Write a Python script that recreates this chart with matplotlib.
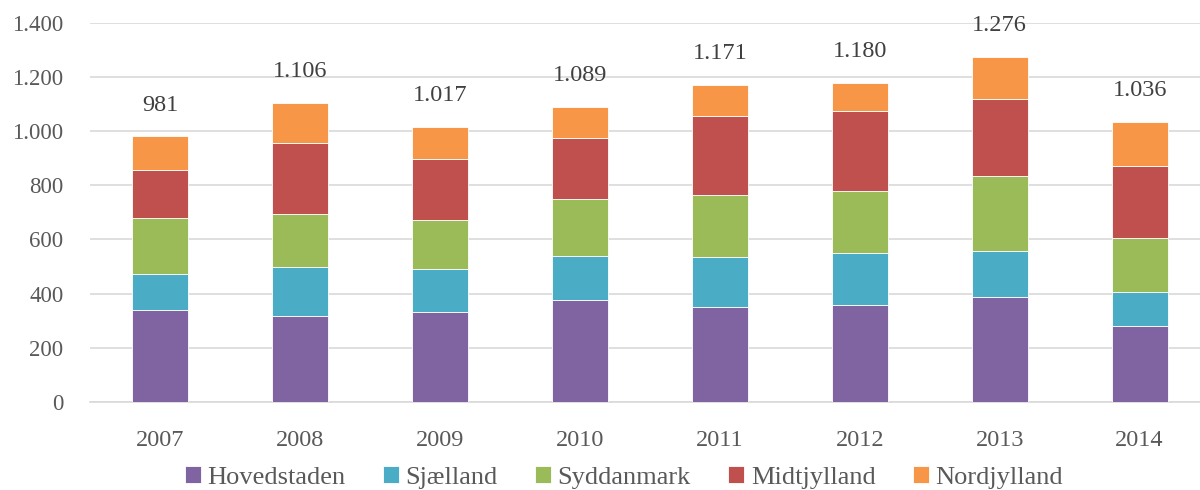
import matplotlib
matplotlib.use("Agg")
import matplotlib.pyplot as plt
import numpy as np

years = ["2007", "2008", "2009", "2010", "2011", "2012", "2013", "2014"]
hovedstaden = [339, 317, 333, 376, 352, 356, 389, 281]
sjaelland = [135, 180, 158, 164, 182, 193, 167, 126]
syddanmark = [207, 197, 182, 210, 230, 232, 279, 197]
midtjylland = [176, 264, 223, 226, 292, 292, 285, 266]
nordjylland = [124, 148, 121, 113, 115, 107, 156, 166]
series_names = ["Hovedstaden", "Sjælland", "Syddanmark", "Midtjylland", "Nordjylland"]
colors = ["#8064A2", "#4BACC6", "#9BBB59", "#C0504D", "#F79646"]
yticks = [0, 200, 400, 600, 800, 1000, 1200, 1400]

plt.rcParams['font.family'] = ['Liberation Serif', 'DejaVu Serif']

def fmt(v):
    return f"{v:,}".replace(",", ".")

fig = plt.figure(figsize=(12, 4.9), dpi=100)
ax = fig.add_axes([0.075, 0.18, 0.933, 0.773])

series = [hovedstaden, sjaelland, syddanmark, midtjylland, nordjylland]
x = np.arange(len(years))
bottom = np.zeros(len(years))
for name, vals, c in zip(series_names, series, colors):
    ax.bar(x, vals, 0.4, bottom=bottom, color=c, label=name,
           edgecolor="white", linewidth=0.6, zorder=3)
    bottom = bottom + np.array(vals)

for xi, tot in zip(x, bottom):
    ax.annotate(fmt(int(tot)), (xi, tot), xytext=(0, 15), textcoords="offset points",
                ha="center", va="bottom", fontsize=17.5, color="#404040")

ax.set_xlim(-0.5, 7.5)
ax.set_ylim(0, 1400)
ax.set_yticks(yticks)
ax.set_yticklabels([fmt(v) for v in yticks], fontsize=16.5, color="#595959")
ax.set_xticks(x)
ax.set_xticklabels(years, fontsize=17.5, color="#595959")
ax.tick_params(axis="both", length=0)
ax.tick_params(axis="x", pad=20)
ax.tick_params(axis="y", pad=19)
ax.grid(axis="y", color="#D9D9D9", linewidth=1.2, zorder=0)
for s in ["top", "right", "left"]:
    ax.spines[s].set_visible(False)
ax.spines["bottom"].set_color("#D9D9D9")
ax.spines["bottom"].set_linewidth(1.2)

fig.legend(loc="center", bbox_to_anchor=(0.52, 0.025), ncol=5, frameon=False,
           fontsize=19, handlelength=0.6, handleheight=0.6, handletextpad=0.25,
           columnspacing=1.42, labelcolor="#595959")

fig.savefig("out.png", dpi=100)
